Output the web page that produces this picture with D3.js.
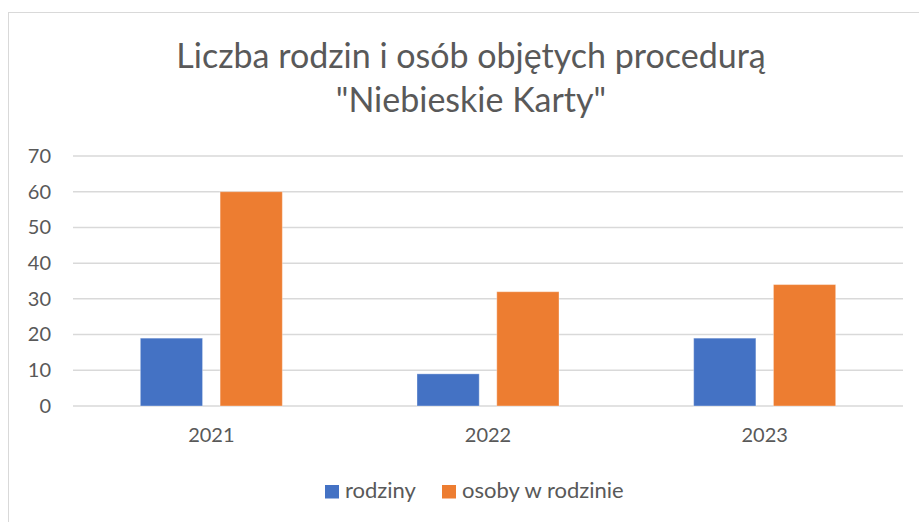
<!DOCTYPE html>
<html>
<head>
<meta charset="utf-8">
<script src="https://cdn.jsdelivr.net/npm/d3@7"></script>
<style>
  body { margin: 0; background: #fff; }
  text { font-family: "Lato", "Open Sans", sans-serif; fill: #595959; }
</style>
</head>
<body>
<div id="chart"></div>
<script>
// data
var years = ["2021", "2022", "2023"];
var seriesNames = ["rodziny", "osoby w rodzinie"];
var rodziny = [19, 9, 19];
var osoby = [60, 32, 34];
var yTicks = [0, 10, 20, 30, 40, 50, 60, 70];
var titleLines = ["Liczba rodzin i osób objętych procedurą", "\"Niebieskie Karty\""];

var W = 919, H = 522;
var margin = {top: 156, right: 16, bottom: 116, left: 73},
    width = W - margin.left - margin.right,
    height = H - margin.top - margin.bottom;

var color = d3.scaleOrdinal().domain(seriesNames).range(["#4472c4", "#ed7d31"]);

var svg = d3.select("#chart").append("svg")
    .attr("width", W)
    .attr("height", H);

// chart border
svg.append("rect")
    .attr("x", 8.5).attr("y", 12.5)
    .attr("width", W).attr("height", H)
    .attr("fill", "none")
    .attr("stroke", "#d9d9d9")
    .attr("stroke-width", 1);

// title
svg.selectAll(".title")
    .data(titleLines)
    .enter().append("text")
    .attr("class", "title")
    .attr("x", 471)
    .attr("y", function(d, i) { return 68 + i * 44; })
    .attr("text-anchor", "middle")
    .style("font-size", "34px")
    .text(function(d) { return d; });

var g = svg.append("g")
    .attr("transform", "translate(" + margin.left + "," + margin.top + ")");

var x = d3.scaleBand().domain(years).range([0, width]);
var x1 = d3.scaleBand().domain(seriesNames).range([x.bandwidth() / 2 - 71, x.bandwidth() / 2 + 71]).paddingInner(0.22);
var y = d3.scaleLinear().domain([0, 70]).range([height, 0]);

// gridlines
g.selectAll(".grid")
    .data(yTicks)
    .enter().append("line")
    .attr("x1", 0).attr("x2", width)
    .attr("y1", function(d) { return y(d); })
    .attr("y2", function(d) { return y(d); })
    .attr("stroke", "#d9d9d9")
    .attr("stroke-width", 1.5);

// y axis labels
var yAxis = d3.axisLeft(y).tickValues(yTicks).tickSize(0).tickPadding(22);
g.append("g").call(yAxis)
    .call(function(s) { s.select(".domain").remove(); })
    .selectAll("text")
    .style("font-size", "20px")
    .attr("fill", "#595959");

// x axis labels
var xAxis = d3.axisBottom(x).tickSize(0).tickPadding(22);
g.append("g")
    .attr("transform", "translate(0," + height + ")")
    .call(xAxis)
    .call(function(s) { s.select(".domain").remove(); })
    .selectAll("text")
    .style("font-size", "20px")
    .attr("fill", "#595959");

// bars
var rows = years.map(function(yr, i) {
    return {year: yr, vals: [{name: seriesNames[0], value: rodziny[i]}, {name: seriesNames[1], value: osoby[i]}]};
});

var grp = g.selectAll(".year")
    .data(rows)
    .enter().append("g")
    .attr("transform", function(d) { return "translate(" + x(d.year) + ",0)"; });

grp.selectAll("rect")
    .data(function(d) { return d.vals; })
    .enter().append("rect")
    .attr("x", function(d) { return x1(d.name); })
    .attr("width", x1.bandwidth())
    .attr("y", function(d) { return y(d.value); })
    .attr("height", function(d) { return height - y(d.value); })
    .attr("fill", function(d) { return color(d.name); })
    .attr("stroke", "#fff")
    .attr("stroke-opacity", 0.35)
    .attr("stroke-width", 1);

// legend
var legendX = [325, 442];
var legend = svg.selectAll(".legend")
    .data(seriesNames)
    .enter().append("g")
    .attr("class", "legend")
    .attr("transform", function(d, i) { return "translate(" + legendX[i] + ",485)"; });

legend.append("rect")
    .attr("width", 14).attr("height", 13.5)
    .attr("fill", color);

legend.append("text")
    .attr("x", 20)
    .attr("y", 13)
    .style("font-size", "22px")
    .text(function(d) { return d; });
</script>
</body>
</html>
